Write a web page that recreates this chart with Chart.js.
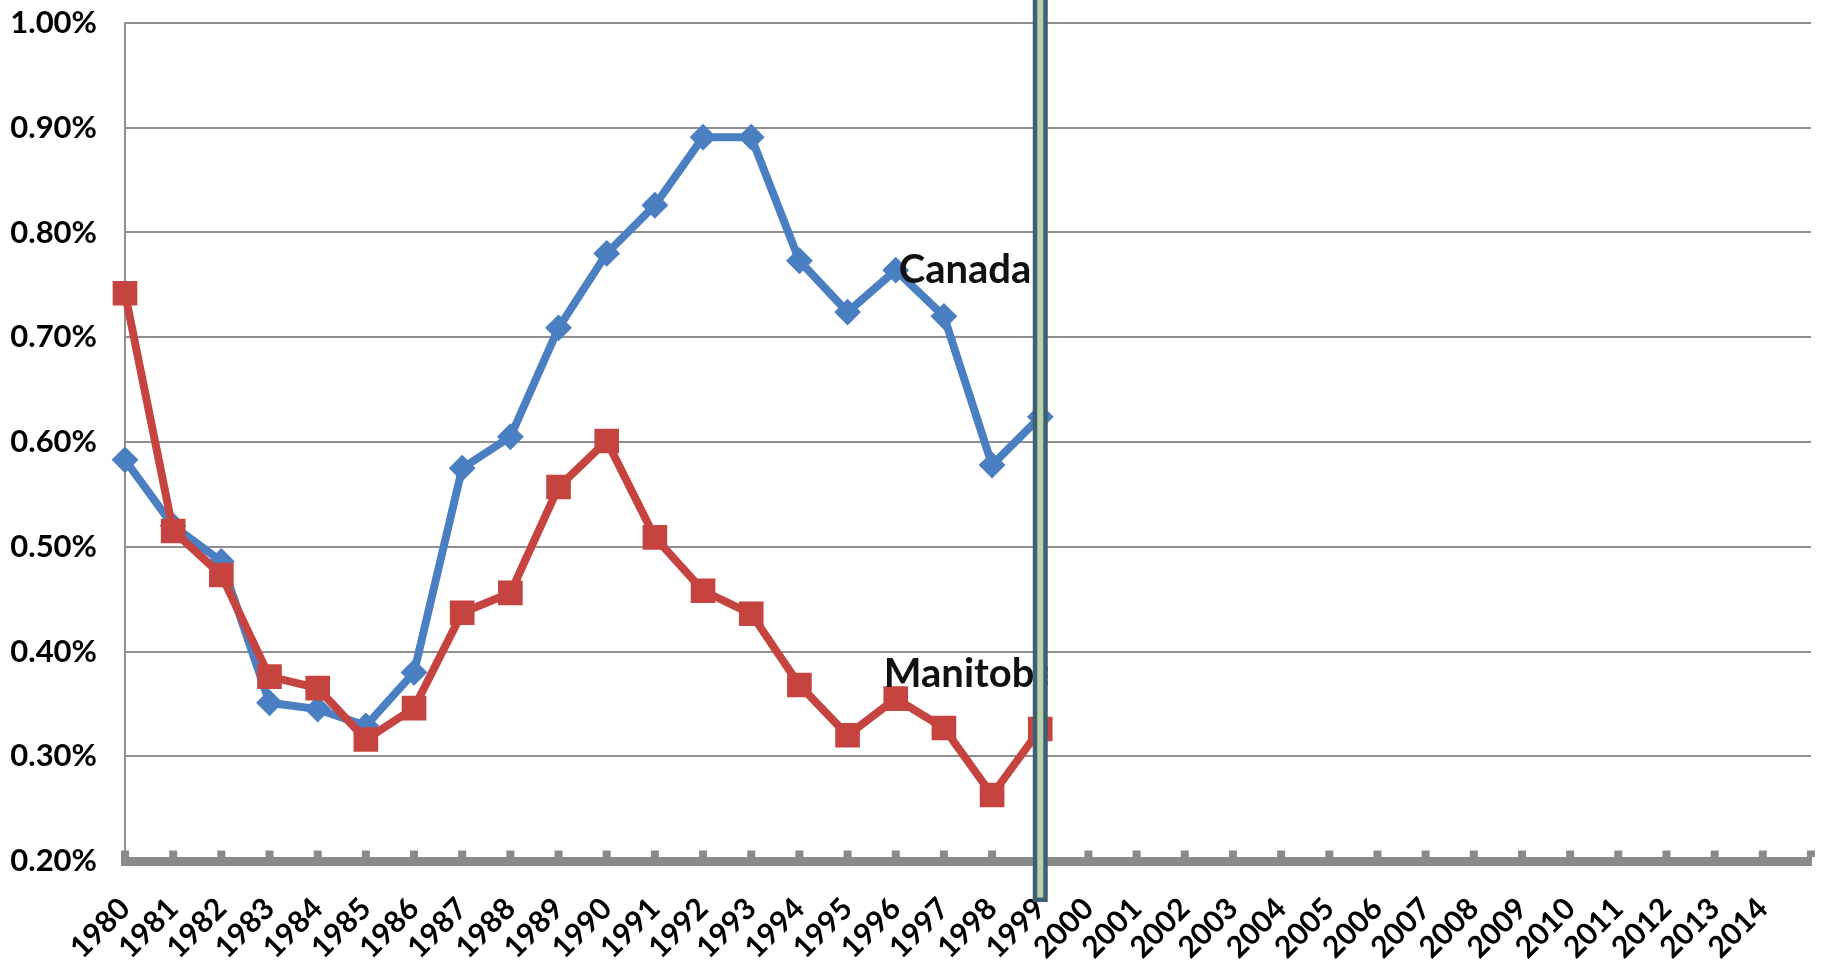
<!DOCTYPE html>
<html>
<head>
<meta charset="utf-8">
<script src="https://cdn.jsdelivr.net/npm/chart.js@4.4.1/dist/chart.umd.min.js"></script>
<style>
  html, body { margin: 0; padding: 0; background: #ffffff; }
  #wrap { width: 1829px; height: 963px; }
</style>
</head>
<body>
<div id="wrap"><canvas id="c" width="1829" height="963"></canvas></div>
<script>
// ---- data ----
const years = ['1980','1981','1982','1983','1984','1985','1986','1987','1988','1989',
               '1990','1991','1992','1993','1994','1995','1996','1997','1998','1999',
               '2000','2001','2002','2003','2004','2005','2006','2007','2008','2009',
               '2010','2011','2012','2013','2014',''];
const canada   = [0.583, 0.520, 0.486, 0.351, 0.345, 0.329, 0.380, 0.575, 0.605, 0.709,
                  0.780, 0.826, 0.891, 0.891, 0.773, 0.724, 0.764, 0.720, 0.578, 0.624];
const manitoba = [0.742, 0.515, 0.473, 0.376, 0.365, 0.316, 0.346, 0.437, 0.456, 0.557,
                  0.601, 0.509, 0.458, 0.436, 0.368, 0.320, 0.355, 0.327, 0.263, 0.326];
const yTicks = [0.2, 0.3, 0.4, 0.5, 0.6, 0.7, 0.8, 0.9, 1.0];
const markerYear = '1999';
const seriesLabels = [
  { text: 'Canada',   series: 0, year: '1996', dx: 3,   dy: 0 },
  { text: 'Manitoba', series: 1, year: '1996', dx: -12, dy: -25 }
];

const FONT = 'Lato, "Open Sans", "DejaVu Sans", sans-serif';
const GRID = '#8f8f8f';
const AXIS = '#8a8a8a';

const overlay = {
  id: 'overlay',
  afterDatasetsDraw(chart) {
    const { ctx, chartArea, scales } = chart;
    const xs = scales.x, ys = scales.y;
    const series = [canada, manitoba];
    const mx = xs.getPixelForValue(years.indexOf(markerYear));
    const halfW = 7.5;

    // axis tick nubs (pointing up from the thick axis)
    ctx.save();
    ctx.fillStyle = AXIS;
    for (let i = 0; i < years.length; i++) {
      const x = xs.getPixelForValue(i);
      ctx.fillRect(x - 4, chartArea.bottom - 4.5 - 6, 8, 6.5);
    }
    ctx.restore();

    // series labels
    ctx.save();
    ctx.beginPath();
    ctx.rect(0, 0, mx + halfW, chart.height);
    ctx.clip();
    ctx.fillStyle = '#111111';
    ctx.font = 'bold 40px ' + FONT;
    ctx.textAlign = 'left';
    ctx.textBaseline = 'middle';
    seriesLabels.forEach(l => {
      const i = years.indexOf(l.year);
      const x = xs.getPixelForValue(i) + l.dx;
      const y = ys.getPixelForValue(series[l.series][i]) + l.dy;
      ctx.fillText(l.text, x, y);
    });
    ctx.restore();

    // vertical marker bar
    ctx.save();
    const bottom = chartArea.bottom + 41;
    const sw = 4.5;
    ctx.fillStyle = '#b9d2ab';
    ctx.strokeStyle = '#3f6072';
    ctx.lineWidth = sw;
    ctx.beginPath();
    ctx.rect(mx - halfW + sw / 2, -20, 2 * halfW - sw, bottom - sw / 2 + 20);
    ctx.fill();
    ctx.stroke();
    ctx.restore();
  }
};

new Chart(document.getElementById('c'), {
  type: 'line',
  data: {
    labels: years,
    datasets: [
      {
        label: 'Canada',
        data: canada,
        borderColor: '#4a7fc2',
        backgroundColor: '#4a7fc2',
        borderWidth: 8,
        pointStyle: 'rectRot',
        pointRadius: 12,
        pointBorderWidth: 2,
        pointBackgroundColor: '#4a7fc2',
        pointBorderColor: '#4a7fc2',
        tension: 0,
        clip: false,
        order: 1
      },
      {
        label: 'Manitoba',
        data: manitoba,
        borderColor: '#c6443f',
        backgroundColor: '#c6443f',
        borderWidth: 8,
        pointStyle: 'rect',
        pointRadius: 16,
        pointBorderWidth: 2,
        pointBackgroundColor: '#c6443f',
        pointBorderColor: '#c6443f',
        tension: 0,
        clip: false,
        order: 0
      }
    ]
  },
  options: {
    responsive: false,
    animation: false,
    devicePixelRatio: 1,
    layout: { padding: { top: 23, right: 11, bottom: 0, left: 0 } },
    plugins: { legend: { display: false }, tooltip: { enabled: false } },
    scales: {
      x: {
        type: 'category',
        offset: false,
        grid: { display: false, drawTicks: false },
        border: { display: true, color: AXIS, width: 9 },
        ticks: {
          autoSkip: false,
          maxRotation: 45,
          minRotation: 45,
          padding: 30,
          color: '#000000',
          font: { family: FONT, size: 30, weight: 'bold' }
        },
        afterFit(s) { s.height = 102; s.paddingLeft = 0; s.paddingRight = 0; }
      },
      y: {
        min: yTicks[0],
        max: yTicks[yTicks.length - 1],
        afterBuildTicks(s) { s.ticks = yTicks.map(v => ({ value: v })); },
        grid: { color: GRID, lineWidth: 2, drawTicks: false },
        border: { display: true, color: GRID, width: 2 },
        ticks: {
          padding: 28,
          color: '#000000',
          font: { family: FONT, size: 31, weight: 'bold' },
          callback: v => Number(v).toFixed(2) + '%'
        },
        afterFit(s) { s.width = 125; s.paddingTop = 0; s.paddingBottom = 0; }
      }
    }
  },
  plugins: [overlay]
});
</script>
</body>
</html>
